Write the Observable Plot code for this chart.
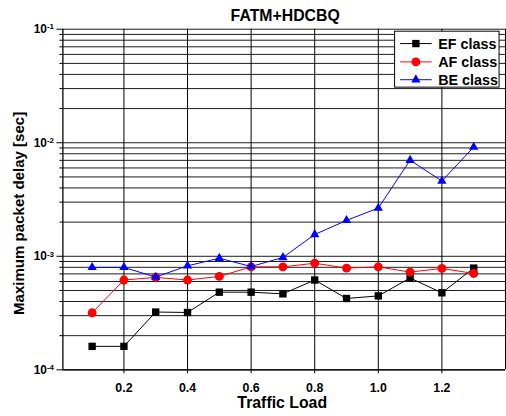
<!DOCTYPE html>
<html>
<head>
<meta charset="utf-8">
<script src="https://cdn.jsdelivr.net/npm/d3@7"></script>
<script src="https://cdn.jsdelivr.net/npm/@observablehq/plot@0.6"></script>
<style>
  html, body { margin: 0; padding: 0; background: white; overflow: hidden; }
  #chart { width: 506px; height: 416px; overflow: hidden; }
</style>
</head>
<body>
<div id="chart"></div>
<script>
const chartTitle = "FATM+HDCBQ";
const xLabel = "Traffic Load";
const yLabel = "Maximum packet delay [sec]";

const trafficLoad = [0.1, 0.2, 0.3, 0.4, 0.5, 0.6, 0.7, 0.8, 0.9, 1.0, 1.1, 1.2, 1.3];
const efDelay = [1.61e-4, 1.61e-4, 3.23e-4, 3.2e-4, 4.83e-4, 4.83e-4, 4.67e-4, 6.18e-4, 4.25e-4, 4.48e-4, 6.44e-4, 4.77e-4, 7.87e-4];
const afDelay = [3.18e-4, 6.18e-4, 6.52e-4, 6.18e-4, 6.65e-4, 8.07e-4, 8.07e-4, 8.69e-4, 7.87e-4, 8.07e-4, 7.26e-4, 7.82e-4, 7.06e-4];
const beDelay = [7.98e-4, 7.98e-4, 6.56e-4, 8.24e-4, 9.62e-4, 8.13e-4, 9.76e-4, 1.556e-3, 2.07e-3, 2.66e-3, 7.02e-3, 4.6e-3, 9.16e-3];

const seriesNames = ["EF class", "AF class", "BE class"];
const seriesValues = [efDelay, afDelay, beDelay];
const seriesColors = ["black", "red", "blue"];
const seriesSymbols = ["square", "circle", "triangle"];
const seriesRadius = [4.2, 4.5, 3.5];

const xTicks = [0.2, 0.4, 0.6, 0.8, 1.0, 1.2];
const xTickLabels = ["0.2", "0.4", "0.6", "0.8", "1.0", "1.2"];
const xGridValues = [0.2, 0.4, 0.6, 0.8, 1.0, 1.2, 1.4];
const yMajorTicks = [1e-4, 1e-3, 1e-2, 1e-1];
const yTickExponents = ["-4", "-3", "-2", "-1"];
const yMinorMultipliers = [2, 3, 4, 5, 6, 7, 8, 9];

const xDomain = [0.008, 1.4];
const yDomain = [1e-4, 1e-1];

const yMinorTicks = [];
for (const d of [1e-4, 1e-3, 1e-2]) for (const m of yMinorMultipliers) yMinorTicks.push(d * m);
const yGrid = yMajorTicks.concat(yMinorTicks);

const table = [];
seriesNames.forEach((name, i) => {
  trafficLoad.forEach((x, j) => table.push({series: name, load: x, delay: seriesValues[i][j]}));
});

const font = "'Liberation Sans', Arial, sans-serif";

const seriesMarks = [];
seriesNames.forEach((name, i) => {
  const rows = table.filter(d => d.series === name);
  seriesMarks.push(Plot.line(rows, {x: "load", y: "delay", stroke: seriesColors[i], strokeWidth: 1}));
  seriesMarks.push(Plot.dot(rows, {x: "load", y: "delay", symbol: () => seriesSymbols[i], fill: seriesColors[i], stroke: "none", r: seriesRadius[i]}));
});

const plot = Plot.plot({
  width: 511,
  height: 416,
  marginLeft: 63,
  marginRight: 1,
  marginTop: 29,
  marginBottom: 43,
  style: {fontFamily: font, fontWeight: "bold", background: "white", color: "black"},
  x: {domain: xDomain},
  y: {type: "log", domain: yDomain},
  symbol: {type: "identity"},
  marks: [
    Plot.ruleY(yGrid, {stroke: "black", strokeWidth: 1, strokeOpacity: 0.9}),
    Plot.ruleX(xGridValues, {stroke: "black", strokeWidth: 1}),
    Plot.ruleX([xDomain[0]], {stroke: "black", strokeWidth: 1.3}),
    Plot.ruleY([yDomain[0]], {stroke: "black", strokeWidth: 1.3}),
    Plot.axisX({ticks: xTicks, tickFormat: (d) => xTickLabels[xTicks.indexOf(d)], tickSize: 4, tickPadding: 10, fontSize: 12.5, fontWeight: "bold", label: null}),
    Plot.axisY({ticks: yMajorTicks, tickFormat: d => "10|" + yTickExponents[yMajorTicks.indexOf(d)], tickSize: 6, tickPadding: 3, fontSize: 12, fontWeight: "bold", label: null}),
    Plot.axisY({ticks: yMinorTicks, tickFormat: () => "", tickSize: 3, label: null}),
    ...seriesMarks,
    Plot.text([chartTitle], {frameAnchor: "top", dy: -8, dx: 1, lineAnchor: "bottom", fontSize: 16, fontWeight: "bold", fill: "black"}),
    Plot.text([xLabel], {frameAnchor: "bottom", dy: 39, dx: -2, lineAnchor: "bottom", fontSize: 16, fontWeight: "bold", fill: "black"}),
    Plot.text([yLabel], {frameAnchor: "left", textAnchor: "middle", rotate: -90, dx: -44, dy: 14, lineAnchor: "middle", fontSize: 15.2, fontWeight: "bold", fill: "black"})
  ]
});

document.getElementById("chart").appendChild(plot);

// superscript exponents on y tick labels
d3.select(plot).selectAll('g[aria-label="y-axis tick label"] text').each(function() {
  const t = d3.select(this);
  const s = t.text();
  if (s.indexOf("|") < 0) return;
  const [base, exp] = s.split("|");
  t.text(null);
  t.append("tspan").text(base);
  t.append("tspan").attr("dy", "-0.45em").attr("font-size", 8).text(exp);
});

// legend
const svg = d3.select(plot);
const lg = svg.append("g").attr("font-family", font).attr("font-weight", "bold").attr("text-anchor", "start");
lg.append("rect").attr("x", 398.5).attr("y", 31.5).attr("width", 105.5).attr("height", 56.5)
  .attr("fill", "white").attr("stroke", "black").attr("stroke-width", 1);
const rowY = [44, 62.5, 80.5];
seriesNames.forEach((name, i) => {
  const y = rowY[i];
  lg.append("line").attr("x1", 404).attr("x2", 436).attr("y1", y).attr("y2", y)
    .attr("stroke", seriesColors[i]).attr("stroke-width", 1);
  const sym = {square: d3.symbolSquare, circle: d3.symbolCircle, triangle: d3.symbolTriangle}[seriesSymbols[i]];
  lg.append("path").attr("transform", `translate(420,${y})`)
    .attr("d", d3.symbol(sym, Math.PI * seriesRadius[i] ** 2)()).attr("fill", seriesColors[i]);
  lg.append("text").attr("x", 442.5).attr("y", y).attr("dy", "0.36em").attr("font-size", 14.5)
    .attr("text-anchor", "start").attr("fill", "black").text(name);
});
</script>
</body>
</html>
